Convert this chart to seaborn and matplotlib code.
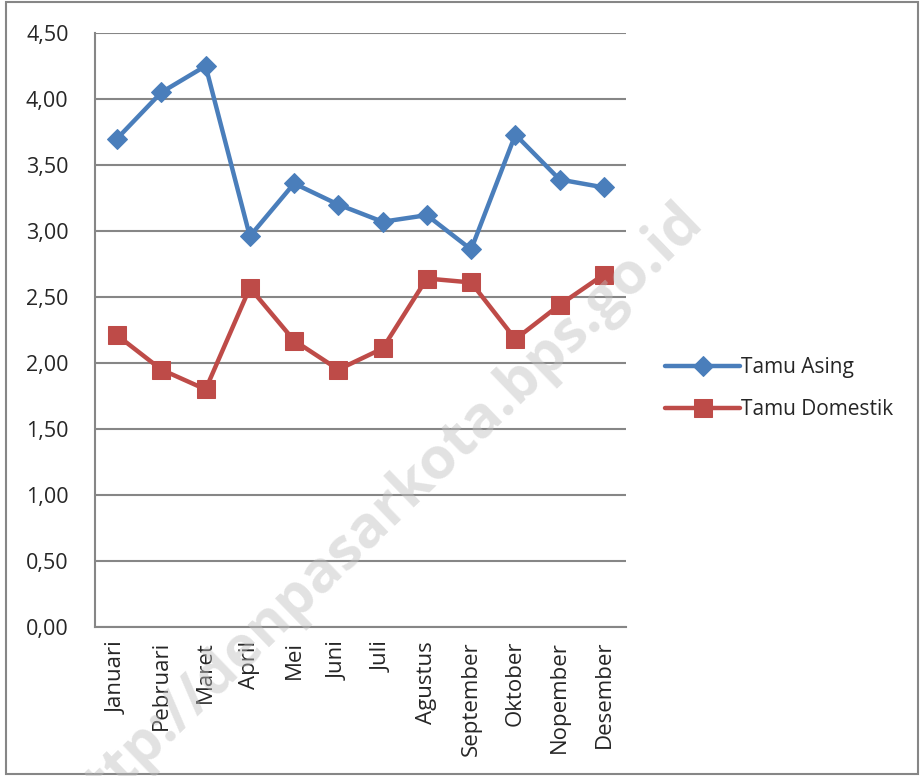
import matplotlib.pyplot as plt
import matplotlib.ticker as mticker
import seaborn as sns
import pandas as pd
import numpy as np
from matplotlib.patches import Rectangle

sns.set_style("white")
plt.rcParams["font.family"] = ["Open Sans", "DejaVu Sans"]
plt.rcParams["font.size"] = 13

BLUE = "#4A7EBB"
RED = "#BE4B48"
GRID = "#868686"

months = ["Januari", "Pebruari", "Maret", "April", "Mei", "Juni", "Juli",
          "Agustus", "September", "Oktober", "Nopember", "Desember"]
tamu_asing = [3.70, 4.05, 4.25, 2.96, 3.36, 3.20, 3.07, 3.12, 2.86, 3.73, 3.39, 3.33]
tamu_domestik = [2.21, 1.95, 1.80, 2.57, 2.17, 1.95, 2.11, 2.64, 2.61, 2.18, 2.44, 2.67]

fig = plt.figure(figsize=(9.21, 7.76), dpi=100)
ax = fig.add_axes([0.1031, 0.192, 0.5766, 0.7655])

sns.lineplot(x=months, y=tamu_asing, ax=ax, color=BLUE, lw=3.2, marker="D",
             markersize=10, mec=BLUE, label="Tamu Asing", zorder=5)
sns.lineplot(x=months, y=tamu_domestik, ax=ax, color=RED, lw=3.2, marker="s",
             markersize=13, mec=RED, label="Tamu Domestik", zorder=4)

ax.set_ylim(0, 4.5)
ax.set_xlim(-0.5, 11.5)
ax.yaxis.set_major_locator(mticker.MultipleLocator(0.5))
ax.yaxis.set_major_formatter(mticker.FuncFormatter(lambda v, p: f"{v:.2f}".replace(".", ",")))
ax.grid(axis="y", color=GRID, lw=1.5)
ax.set_axisbelow(True)

ax.set_xticks(range(len(months)))
ax.set_xticklabels(months, rotation=90)
ax.set_xticks(np.arange(-0.5, 12, 1), minor=True)
ax.tick_params(axis="x", which="major", length=0, pad=10, labelsize=16)
ax.tick_params(axis="x", which="minor", length=6, color=GRID, width=1.5, direction="out")
ax.tick_params(axis="y", length=6, color=GRID, width=1.5, direction="out", pad=13, labelsize=15.5)

sns.despine(ax=ax)
for s in ["left", "bottom"]:
    ax.spines[s].set_color(GRID)
    ax.spines[s].set_linewidth(1.5)

ax.get_legend().remove()
h, l = ax.get_legend_handles_labels()
fig.legend(h, l, loc="center left", bbox_to_anchor=(0.702, 0.499), frameon=False,
           fontsize=15, handlelength=3.6, handletextpad=0.05, labelspacing=1.0)

fig.text(0.413, 0.336, "http://denpasarkota.bps.go.id", rotation=44, fontsize=42,
         fontweight="bold", color="#bfbfbf", alpha=0.45, ha="center", va="center",
         zorder=20)

fig.patches.append(Rectangle((0.006, 0.002), 0.991, 0.996, transform=fig.transFigure,
                             fill=False, ec=GRID, lw=1.5))

plt.savefig("out.png", dpi=100, facecolor="w")
